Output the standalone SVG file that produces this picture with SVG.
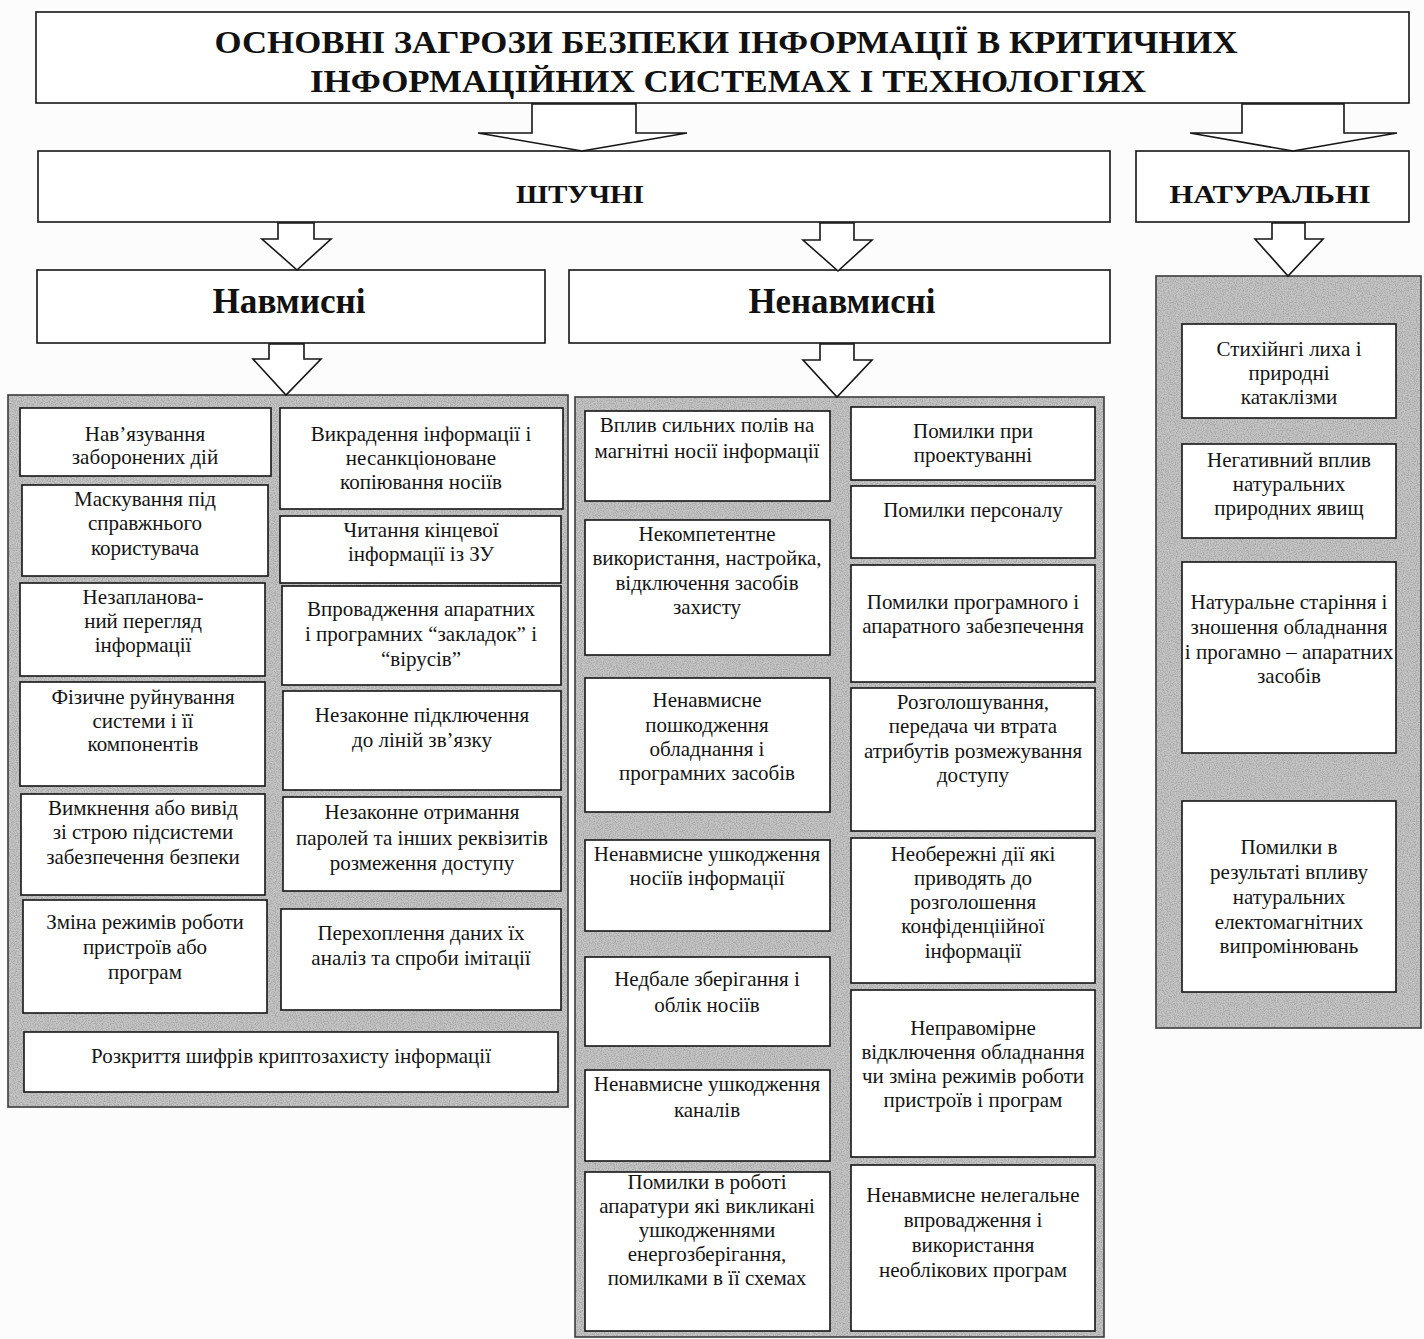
<svg xmlns="http://www.w3.org/2000/svg" width="1424" height="1339" viewBox="0 0 1424 1339">
<style>
.bg{fill:#fcfcfc}
.box{fill:#ffffff;stroke:#151515;stroke-width:1.6}
.panel{fill:#c4c4c4;stroke:#3a3a3a;stroke-width:1.6}
.grain{fill:#000}
.arrow{fill:#ffffff;stroke:#151515;stroke-width:1.6;stroke-linejoin:miter}
.t{font-family:"Liberation Serif","Times New Roman",serif;font-size:21px;fill:#141414;text-anchor:middle}
.h{font-family:"Liberation Serif","Times New Roman",serif;font-weight:bold;fill:#111;text-anchor:middle}
</style>
<defs>
<filter id="noise" x="0" y="0" width="100%" height="100%">
<feTurbulence type="fractalNoise" baseFrequency="0.85" numOctaves="2" seed="7" result="n"/>
<feColorMatrix in="n" type="matrix" values="0 0 0 0 0.25  0 0 0 0 0.25  0 0 0 0 0.25  0 0 0 1.3 -0.5"/>
</filter>
</defs>
<rect class="bg" x="0" y="0" width="1424" height="1339"/>

<!-- panels -->
<g id="panel-navmysni"><rect class="panel" x="8" y="395" width="560" height="712"/><rect class="grain" x="9" y="396" width="558" height="710" filter="url(#noise)"/></g>
<g id="panel-nenavmysni"><rect class="panel" x="575" y="397" width="529" height="940"/><rect class="grain" x="576" y="398" width="527" height="938" filter="url(#noise)"/></g>
<g id="panel-naturalni"><rect class="panel" x="1156" y="276" width="265" height="752"/><rect class="grain" x="1157" y="277" width="263" height="750" filter="url(#noise)"/></g>

<!-- top nodes -->
<g id="title">
<rect class="box" x="36" y="12" width="1373" height="91"/>
<text class="h" x="726" y="53" font-size="32" textLength="1023" lengthAdjust="spacingAndGlyphs">ОСНОВНІ ЗАГРОЗИ БЕЗПЕКИ ІНФОРМАЦІЇ В КРИТИЧНИХ</text>
<text class="h" x="728" y="92" font-size="32" textLength="836" lengthAdjust="spacingAndGlyphs">ІНФОРМАЦІЙНИХ СИСТЕМАХ І ТЕХНОЛОГІЯХ</text>
</g>
<g id="shtuchni">
<rect class="box" x="38" y="151" width="1072" height="71"/>
<text class="h" x="580" y="203" font-size="26" textLength="128" lengthAdjust="spacingAndGlyphs">ШТУЧНІ</text>
</g>
<g id="naturalni">
<rect class="box" x="1136" y="151" width="273" height="71"/>
<text class="h" x="1270" y="203" font-size="26" textLength="201" lengthAdjust="spacingAndGlyphs">НАТУРАЛЬНІ</text>
</g>
<g id="navmysni">
<rect class="box" x="37" y="270" width="508" height="73"/>
<text class="h" x="289" y="313" font-size="35" textLength="153" lengthAdjust="spacingAndGlyphs">Навмисні</text>
</g>
<g id="nenavmysni">
<rect class="box" x="569" y="270" width="541" height="73"/>
<text class="h" x="842" y="313" font-size="35" textLength="187" lengthAdjust="spacingAndGlyphs">Ненавмисні</text>
</g>

<!-- left panel boxes -->
<g id="l1"><rect class="box" x="20" y="408" width="251" height="68"/>
<text class="t" x="145" y="441">Нав’язування</text><text class="t" x="145" y="464">заборонених дій</text></g>
<g id="l2"><rect class="box" x="22" y="485" width="246" height="91"/>
<text class="t" x="145" y="506">Маскування під</text><text class="t" x="145" y="530">справжнього</text><text class="t" x="145" y="555">користувача</text></g>
<g id="l3"><rect class="box" x="20" y="583" width="245" height="93"/>
<text class="t" x="143" y="604">Незапланова-</text><text class="t" x="143" y="628">ний перегляд</text><text class="t" x="143" y="652">інформації</text></g>
<g id="l4"><rect class="box" x="20" y="682" width="245" height="104"/>
<text class="t" x="143" y="704">Фізичне руйнування</text><text class="t" x="143" y="728">системи і її</text><text class="t" x="143" y="751">компонентів</text></g>
<g id="l5"><rect class="box" x="21" y="794" width="244" height="101"/>
<text class="t" x="143" y="815">Вимкнення або вивід</text><text class="t" x="143" y="839">зі строю підсистеми</text><text class="t" x="143" y="864">забезпечення безпеки</text></g>
<g id="l6"><rect class="box" x="23" y="900" width="244" height="113"/>
<text class="t" x="145" y="929">Зміна режимів роботи</text><text class="t" x="145" y="954">пристроїв або</text><text class="t" x="145" y="979">програм</text></g>
<g id="l7"><rect class="box" x="24" y="1032" width="534" height="60"/>
<text class="t" x="291" y="1063">Розкриття шифрів криптозахисту інформації</text></g>
<g id="r1"><rect class="box" x="280" y="408" width="283" height="101"/>
<text class="t" x="421" y="441">Викрадення інформації і</text><text class="t" x="421" y="465">несанкціоноване</text><text class="t" x="421" y="489">копіювання носіїв</text></g>
<g id="r2"><rect class="box" x="280" y="516" width="281" height="67"/>
<text class="t" x="421" y="537">Читання кінцевої</text><text class="t" x="421" y="561">інформації із ЗУ</text></g>
<g id="r3"><rect class="box" x="282" y="586" width="279" height="99"/>
<text class="t" x="421" y="616">Впровадження апаратних</text><text class="t" x="421" y="641">і програмних “закладок” і</text><text class="t" x="421" y="666">“вірусів”</text></g>
<g id="r4"><rect class="box" x="283" y="691" width="278" height="99"/>
<text class="t" x="422" y="722">Незаконне підключення</text><text class="t" x="422" y="747">до ліній зв’язку</text></g>
<g id="r5"><rect class="box" x="283" y="797" width="278" height="94"/>
<text class="t" x="422" y="819">Незаконне отримання</text><text class="t" x="422" y="845">паролей та інших реквізитів</text><text class="t" x="422" y="870">розмеження доступу</text></g>
<g id="r6"><rect class="box" x="281" y="909" width="280" height="101"/>
<text class="t" x="421" y="940">Перехоплення даних їх</text><text class="t" x="421" y="965">аналіз та спроби імітації</text></g>

<!-- middle panel boxes -->
<g id="ml1"><rect class="box" x="585" y="411" width="245" height="90"/>
<text class="t" x="707" y="432">Вплив сильних полів на</text><text class="t" x="707" y="458">магнітні носії інформації</text></g>
<g id="ml2"><rect class="box" x="585" y="520" width="245" height="135"/>
<text class="t" x="707" y="541">Некомпетентне</text><text class="t" x="707" y="565">використання, настройка,</text><text class="t" x="707" y="590">відключення засобів</text><text class="t" x="707" y="614">захисту</text></g>
<g id="ml3"><rect class="box" x="585" y="678" width="245" height="134"/>
<text class="t" x="707" y="707">Ненавмисне</text><text class="t" x="707" y="732">пошкодження</text><text class="t" x="707" y="756">обладнання і</text><text class="t" x="707" y="780">програмних засобів</text></g>
<g id="ml4"><rect class="box" x="585" y="840" width="245" height="91"/>
<text class="t" x="707" y="861">Ненавмисне ушкодження</text><text class="t" x="707" y="885">носіїв інформації</text></g>
<g id="ml5"><rect class="box" x="585" y="957" width="245" height="89"/>
<text class="t" x="707" y="986">Недбале зберігання і</text><text class="t" x="707" y="1012">облік носіїв</text></g>
<g id="ml6"><rect class="box" x="585" y="1070" width="245" height="91"/>
<text class="t" x="707" y="1091">Ненавмисне ушкодження</text><text class="t" x="707" y="1117">каналів</text></g>
<g id="ml7"><rect class="box" x="585" y="1172" width="245" height="159"/>
<text class="t" x="707" y="1189">Помилки в роботі</text><text class="t" x="707" y="1213">апаратури які викликані</text><text class="t" x="707" y="1237">ушкодженнями</text><text class="t" x="707" y="1261">енергозберігання,</text><text class="t" x="707" y="1285">помилками в її схемах</text></g>
<g id="mr1"><rect class="box" x="851" y="407" width="244" height="73"/>
<text class="t" x="973" y="438">Помилки при</text><text class="t" x="973" y="462">проектуванні</text></g>
<g id="mr2"><rect class="box" x="851" y="486" width="244" height="72"/>
<text class="t" x="973" y="517">Помилки персоналу</text></g>
<g id="mr3"><rect class="box" x="851" y="565" width="244" height="117"/>
<text class="t" x="973" y="609">Помилки  програмного і</text><text class="t" x="973" y="633">апаратного забезпечення</text></g>
<g id="mr4"><rect class="box" x="851" y="688" width="244" height="143"/>
<text class="t" x="973" y="709">Розголошування,</text><text class="t" x="973" y="733">передача чи втрата</text><text class="t" x="973" y="758">атрибутів розмежування</text><text class="t" x="973" y="782">доступу</text></g>
<g id="mr5"><rect class="box" x="851" y="838" width="244" height="145"/>
<text class="t" x="973" y="861">Необережні дії які</text><text class="t" x="973" y="885">приводять до</text><text class="t" x="973" y="909">розголошення</text><text class="t" x="973" y="933">конфіденціійної</text><text class="t" x="973" y="958">інформації</text></g>
<g id="mr6"><rect class="box" x="851" y="990" width="244" height="167"/>
<text class="t" x="973" y="1035">Неправомірне</text><text class="t" x="973" y="1059">відключення обладнання</text><text class="t" x="973" y="1083">чи зміна режимів роботи</text><text class="t" x="973" y="1107">пристроїв і програм</text></g>
<g id="mr7"><rect class="box" x="851" y="1165" width="244" height="166"/>
<text class="t" x="973" y="1202">Ненавмисне нелегальне</text><text class="t" x="973" y="1227">впровадження і</text><text class="t" x="973" y="1252">використання</text><text class="t" x="973" y="1277">необлікових програм</text></g>

<!-- right panel boxes -->
<g id="n1"><rect class="box" x="1182" y="324" width="214" height="94"/>
<text class="t" x="1289" y="356">Стихійнгі лиха і</text><text class="t" x="1289" y="380">природні</text><text class="t" x="1289" y="404">катаклізми</text></g>
<g id="n2"><rect class="box" x="1182" y="444" width="214" height="94"/>
<text class="t" x="1289" y="467">Негативний вплив</text><text class="t" x="1289" y="491">натуральних</text><text class="t" x="1289" y="515">природних явищ</text></g>
<g id="n3"><rect class="box" x="1182" y="562" width="214" height="191"/>
<text class="t" x="1289" y="609">Натуральне старіння і</text><text class="t" x="1289" y="634">зношення  обладнання</text><text class="t" x="1289" y="659">і прогамно – апаратних</text><text class="t" x="1289" y="683">засобів</text></g>
<g id="n4"><rect class="box" x="1182" y="801" width="214" height="191"/>
<text class="t" x="1289" y="854">Помилки в</text><text class="t" x="1289" y="879">результаті впливу</text><text class="t" x="1289" y="904">натуральних</text><text class="t" x="1289" y="929">електомагнітних</text><text class="t" x="1289" y="953">випромінювань</text></g>

<!-- connectors: hollow block arrows -->
<g id="connectors">
<polygon class="arrow" points="532,104 532,133 478,133 582,151 687,133 636,133 636,104"/>
<polygon class="arrow" points="1242,104 1242,133 1190,133 1293,151 1397,133 1344,133 1344,104"/>
<polygon class="arrow" points="278,223 278,239 262,239 297,270 331,239 314,239 314,223"/>
<polygon class="arrow" points="820,223 820,240 803,240 838,271 872,240 854,240 854,223"/>
<polygon class="arrow" points="1272,223 1272,239 1255,239 1288,276 1323,239 1305,239 1305,223"/>
<polygon class="arrow" points="269,344 269,359 253,359 286,395 321,359 304,359 304,344"/>
<polygon class="arrow" points="820,344 820,360 803,360 837,397 872,360 854,360 854,344"/>
</g>
</svg>
